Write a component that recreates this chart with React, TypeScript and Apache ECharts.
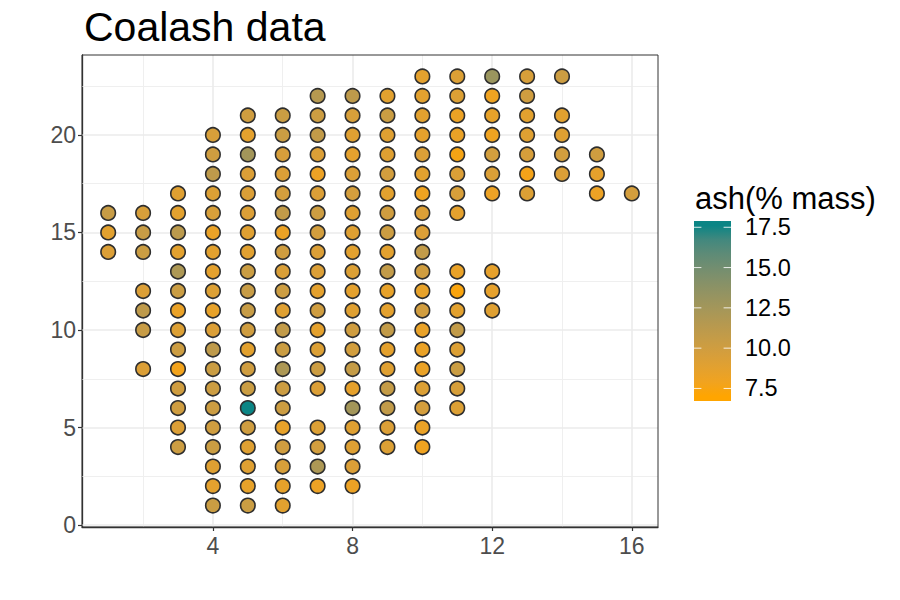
import React, { useEffect, useRef } from "react";
import * as echarts from "echarts";

// Sampling grid: one entry per easting column, northings listed top to bottom
const columnX = [1, 2, 3, 4, 5, 6, 7, 8, 9, 10, 11, 12, 13, 14, 15, 16];
const columnY: number[][] = [
  [16, 15, 14],
  [16, 15, 14, 12, 11, 10, 8],
  [17, 16, 15, 14, 13, 12, 11, 10, 9, 8, 7, 6, 5, 4],
  [20, 19, 18, 17, 16, 15, 14, 13, 12, 11, 10, 9, 8, 7, 6, 5, 4, 3, 2, 1],
  [21, 20, 19, 18, 17, 16, 15, 14, 13, 12, 11, 10, 9, 8, 7, 6, 5, 4, 3, 2, 1],
  [21, 20, 19, 18, 17, 16, 15, 14, 13, 12, 11, 10, 9, 8, 7, 6, 5, 4, 3, 2, 1],
  [22, 21, 20, 19, 18, 17, 16, 15, 14, 13, 12, 11, 10, 9, 8, 7, 5, 4, 3, 2],
  [22, 21, 20, 19, 18, 17, 16, 15, 14, 13, 12, 11, 10, 9, 8, 7, 6, 5, 4, 3, 2],
  [22, 21, 20, 19, 18, 17, 16, 15, 14, 13, 12, 11, 10, 9, 8, 7, 6, 5, 4],
  [23, 22, 21, 20, 19, 18, 17, 16, 15, 14, 13, 12, 11, 10, 9, 8, 7, 6, 5, 4],
  [23, 22, 21, 20, 19, 18, 17, 16, 13, 12, 11, 10, 9, 8, 7, 6],
  [23, 22, 21, 20, 19, 18, 17, 13, 12, 11],
  [23, 22, 21, 20, 19, 18, 17],
  [23, 21, 20, 19, 18],
  [19, 18, 17],
  [17],
];
// Ash content (% mass) at each sample, same order as columnY
const columnAsh: number[][] = [
  [10.5, 8.8, 9.3],
  [9.5, 10.5, 10.3, 9.3, 11.0, 10.5, 9.3],
  [9.0, 8.8, 11.2, 8.8, 12.0, 10.3, 8.3, 9.2, 10.2, 7.8, 10.0, 10.0, 9.3, 10.2],
  [9.5, 10.0, 11.0, 9.2, 9.5, 8.3, 8.8, 8.7, 9.2, 8.5, 9.3, 11.0, 10.3, 10.2, 10.2, 10.0, 10.3, 9.0, 8.7, 10.3],
  [10.0, 8.7, 12.5, 9.3, 9.3, 9.3, 9.0, 8.9, 10.3, 10.5, 10.5, 10.0, 8.8, 10.0, 10.3, 17.61, 10.0, 9.0, 9.0, 8.5, 10.3],
  [10.3, 10.3, 9.6, 9.3, 9.7, 10.8, 8.2, 10.0, 9.4, 10.2, 9.0, 10.8, 10.3, 12.0, 10.2, 10.2, 8.5, 10.0, 9.5, 8.5, 8.8],
  [11.5, 10.2, 10.8, 9.3, 8.2, 9.3, 10.2, 9.8, 9.3, 9.3, 8.7, 10.0, 8.7, 9.2, 10.2, 9.3, 9.2, 9.8, 12.0, 8.2],
  [11.0, 9.5, 9.0, 8.7, 9.3, 9.7, 9.0, 9.0, 8.8, 9.2, 8.7, 9.0, 10.0, 9.8, 10.6, 8.6, 12.5, 9.0, 9.1, 9.3, 8.2],
  [8.8, 10.3, 9.0, 9.0, 9.8, 8.8, 10.0, 10.2, 8.8, 10.8, 8.5, 8.7, 10.8, 8.7, 9.0, 10.6, 10.8, 9.3, 9.2],
  [8.7, 8.8, 8.8, 8.6, 9.3, 8.8, 8.0, 9.3, 9.3, 10.8, 10.0, 8.5, 9.9, 8.4, 8.3, 8.3, 9.2, 9.7, 8.3, 8.0],
  [9.2, 9.2, 8.2, 8.3, 7.6, 9.3, 9.5, 8.7, 8.4, 7.4, 8.8, 10.8, 9.2, 10.3, 9.5, 9.2],
  [13.0, 8.0, 8.5, 8.0, 9.8, 9.3, 8.2, 8.6, 8.6, 9.0],
  [9.5, 10.0, 8.8, 9.0, 9.6, 7.7, 9.2],
  [10.2, 8.8, 9.0, 9.8, 9.3],
  [10.0, 8.6, 8.2],
  [9.7],
];

const xTicks = [4, 8, 12, 16];
const xMinor = [2, 6, 10, 14];
const yTicks = [0, 5, 10, 15, 20];
const yMinor = [2.5, 7.5, 12.5, 17.5, 22.5];
const legendBreaks = [7.5, 10, 12.5, 15, 17.5];
const ashMin = 7.0;
const ashMax = 17.61;
const lowColor = "#FFA500";
const highColor = "#0B8585";

const FONT = "'Liberation Sans', Arial, Helvetica, sans-serif";

// --- CIELAB colour interpolation for the gradient palette ---
const hexToRgb = (h: string) => [1, 3, 5].map((i) => parseInt(h.slice(i, i + 2), 16));
const toLin = (c: number) => {
  const v = c / 255;
  return v <= 0.04045 ? v / 12.92 : Math.pow((v + 0.055) / 1.055, 2.4);
};
const fromLin = (c: number) => {
  const v = c <= 0.0031308 ? 12.92 * c : 1.055 * Math.pow(c, 1 / 2.4) - 0.055;
  return Math.max(0, Math.min(255, Math.round(v * 255)));
};
const WX = 0.95047, WY = 1.0, WZ = 1.08883;
const EPS = 216 / 24389, KAPPA = 24389 / 27;
const fLab = (t: number) => (t > EPS ? Math.cbrt(t) : (KAPPA * t + 16) / 116);
const fInv = (t: number) => (t * t * t > EPS ? t * t * t : (116 * t - 16) / KAPPA);
function rgbToLab(hex: string) {
  const [r, g, b] = hexToRgb(hex).map(toLin);
  const X = 0.4124564 * r + 0.3575761 * g + 0.1804375 * b;
  const Y = 0.2126729 * r + 0.7151522 * g + 0.072175 * b;
  const Z = 0.0193339 * r + 0.119192 * g + 0.9503041 * b;
  const fx = fLab(X / WX), fy = fLab(Y / WY), fz = fLab(Z / WZ);
  return [116 * fy - 16, 500 * (fx - fy), 200 * (fy - fz)];
}
function labToHex([L, a, b]: number[]) {
  const fy = (L + 16) / 116;
  const fx = fy + a / 500;
  const fz = fy - b / 200;
  const X = fInv(fx) * WX, Y = fInv(fy) * WY, Z = fInv(fz) * WZ;
  const r = 3.2404542 * X - 1.5371385 * Y - 0.4985314 * Z;
  const g = -0.969266 * X + 1.8760108 * Y + 0.041556 * Z;
  const bb = 0.0556434 * X - 0.2040259 * Y + 1.0572252 * Z;
  return "#" + [r, g, bb].map((c) => fromLin(c).toString(16).padStart(2, "0")).join("");
}
const labLow = rgbToLab(lowColor);
const labHigh = rgbToLab(highColor);
const STEPS = 12;
const palette = Array.from({ length: STEPS + 1 }, (_, i) => {
  const t = i / STEPS;
  return labToHex(labLow.map((v, k) => v + (labHigh[k] - v) * t));
});

// Panel geometry
const GRID = { left: 82, top: 55, width: 576, height: 472 };
// Colour bar geometry
const BAR = { x: 694, y: 221, w: 37, h: 180 };
const barPad = BAR.h / 40;
const barY = (v: number) =>
  BAR.y + BAR.h - barPad - ((v - ashMin) / (ashMax - ashMin)) * (BAR.h - 2 * barPad);

function buildOption(): echarts.EChartsOption {
  const points = columnX.flatMap((x, i) => columnY[i].map((y, j) => [x, y, columnAsh[i][j]]));

  const gridLine = (axis: "xAxis" | "yAxis", v: number, minor: boolean) => ({
    [axis]: v,
    lineStyle: { color: minor ? "#EFEFEF" : "#EBEBEB", width: minor ? 1 : 1.6, type: "solid" },
  });

  const gradStops = palette
    .map((c, i) => ({
      offset: (barPad + (1 - i / STEPS) * (BAR.h - 2 * barPad)) / BAR.h,
      color: c,
    }))
    .reverse();

  const legendEls: any[] = [
    {
      type: "text",
      x: 695,
      y: 198,
      style: { text: "ash(% mass)", fontSize: 31, fontFamily: FONT, fill: "#000", verticalAlign: "middle" },
    },
    {
      type: "rect",
      shape: { x: BAR.x, y: BAR.y, width: BAR.w, height: BAR.h },
      style: {
        fill: { type: "linear", x: 0, y: 0, x2: 0, y2: 1, colorStops: gradStops } as any,
      },
    },
  ];
  legendBreaks.forEach((v) => {
    const y = barY(v);
    const tick = BAR.w / 5;
    legendEls.push(
      { type: "line", shape: { x1: BAR.x, y1: y, x2: BAR.x + tick, y2: y }, style: { stroke: "rgba(255,255,255,0.85)", lineWidth: 1 } },
      { type: "line", shape: { x1: BAR.x + BAR.w - tick, y1: y, x2: BAR.x + BAR.w, y2: y }, style: { stroke: "rgba(255,255,255,0.85)", lineWidth: 1 } },
      {
        type: "text",
        x: 745,
        y,
        style: { text: v.toFixed(1), fontSize: 23.5, fontFamily: FONT, fill: "#000", verticalAlign: "middle" },
      }
    );
  });

  return {
    animation: false,
    backgroundColor: "#ffffff",
    grid: { ...GRID, show: false },
    xAxis: {
      type: "value",
      min: 0.25,
      max: 16.75,
      axisLine: { show: true, onZero: false, lineStyle: { color: "#333333", width: 1.3 } },
      axisTick: { show: true, customValues: xTicks, length: 4, lineStyle: { color: "#333333", width: 1.2 } },
      axisLabel: { customValues: xTicks, color: "#4D4D4D", fontSize: 23, fontFamily: FONT, margin: 7 },
      splitLine: { show: false },
    },
    yAxis: {
      type: "value",
      min: -0.1,
      max: 24.1,
      axisLine: { show: true, onZero: false, lineStyle: { color: "#333333", width: 1.3 } },
      axisTick: { show: true, customValues: yTicks, length: 4, lineStyle: { color: "#333333", width: 1.2 } },
      axisLabel: { customValues: yTicks, color: "#4D4D4D", fontSize: 23, fontFamily: FONT, margin: 6 },
      splitLine: { show: false },
    },
    visualMap: {
      type: "continuous",
      show: false,
      min: ashMin,
      max: ashMax,
      dimension: 2,
      seriesIndex: 1,
      inRange: { color: palette },
    },
    series: [
      {
        type: "scatter",
        data: [],
        z: 1,
        silent: true,
        markLine: {
          silent: true,
          z: 1,
          symbol: ["none", "none"],
          label: { show: false },
          emphasis: { disabled: true },
          data: [
            ...xMinor.map((v) => gridLine("xAxis", v, true)),
            ...yMinor.map((v) => gridLine("yAxis", v, true)),
            ...xTicks.map((v) => gridLine("xAxis", v, false)),
            ...yTicks.map((v) => gridLine("yAxis", v, false)),
          ] as any,
        },
      },
      {
        type: "scatter",
        z: 3,
        data: points,
        symbol: "circle",
        symbolSize: 14.5,
        itemStyle: { borderColor: "#2E2E2E", borderWidth: 1.6, opacity: 1 },
        emphasis: { disabled: true },
      },
    ],
    graphic: [
      {
        type: "rect",
        z: 50,
        silent: true,
        shape: { x: GRID.left, y: GRID.top, width: GRID.width, height: GRID.height },
        style: { fill: "none", stroke: "#333333", lineWidth: 1 },
      },
      {
        type: "text",
        x: 84,
        y: 27,
        style: { text: "Coalash data", fontSize: 41, fontFamily: FONT, fill: "#000", verticalAlign: "middle" },
      },
      ...legendEls,
    ],
  };
}

export default function App() {
  const ref = useRef<HTMLDivElement>(null);
  useEffect(() => {
    if (!ref.current) return;
    const chart = echarts.init(ref.current, null, { renderer: "svg" });
    chart.setOption(buildOption());
    return () => chart.dispose();
  }, []);
  return (
    <div
      ref={ref}
      style={{ position: "fixed", left: 0, top: 0, width: 900, height: 600, background: "#fff" }}
    />
  );
}
